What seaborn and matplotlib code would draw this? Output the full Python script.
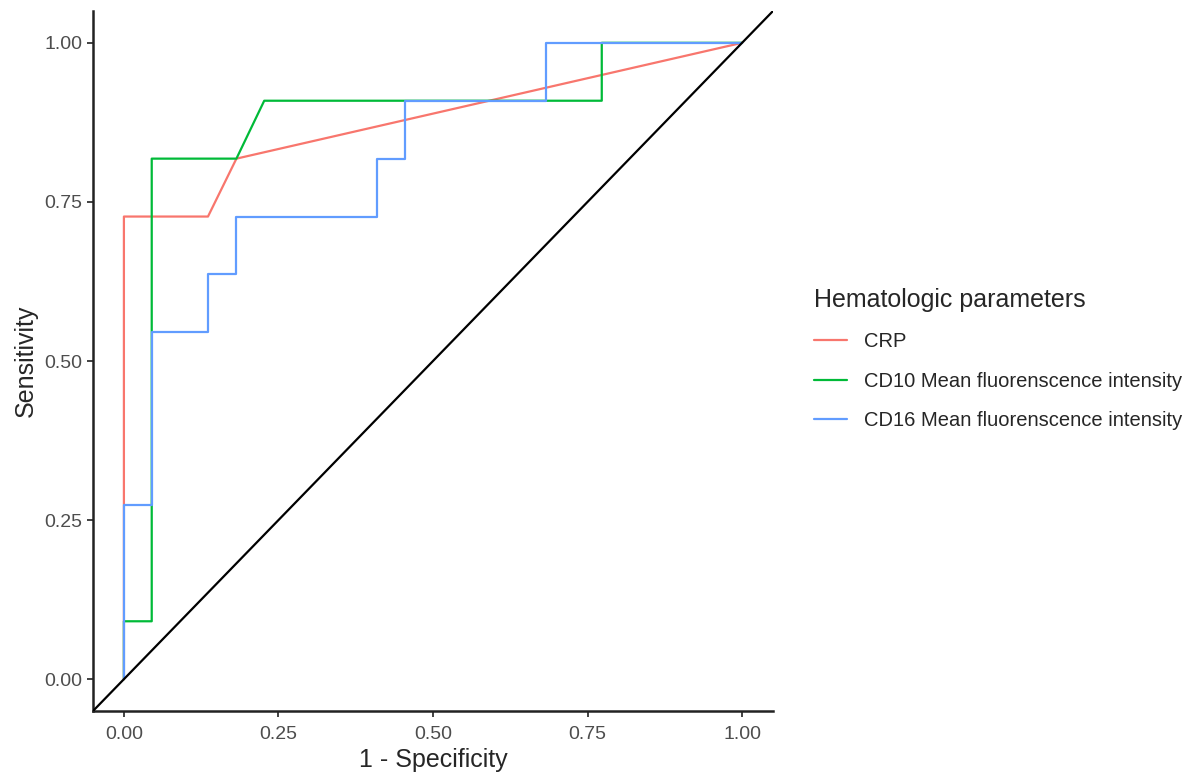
import pandas as pd
import seaborn as sns
import matplotlib.pyplot as plt

#################### Data ####################

params = ['CRP', 'CD10 Mean fluorenscence intensity', 'CD16 Mean fluorenscence intensity']

crp_fpr = [0.000, 0.000, 0.136, 0.182, 1.000]
crp_tpr = [0.000, 0.727, 0.727, 0.818, 1.000]

cd10_fpr = [0.000, 0.000, 0.045, 0.045, 0.182, 0.227, 0.773, 0.773, 1.000]
cd10_tpr = [0.000, 0.091, 0.091, 0.818, 0.818, 0.909, 0.909, 1.000, 1.000]

cd16_fpr = [0.000, 0.000, 0.045, 0.045, 0.136, 0.136, 0.182, 0.182,
            0.409, 0.409, 0.455, 0.455, 0.682, 0.682, 1.000]
cd16_tpr = [0.000, 0.273, 0.273, 0.545, 0.545, 0.636, 0.636, 0.727,
            0.727, 0.818, 0.818, 0.909, 0.909, 1.000, 1.000]

palette = ['#F8766D', '#00BA38', '#619CFF']

#################### Long table ####################

frames = []
for name, fx, ty in zip(params, [crp_fpr, cd10_fpr, cd16_fpr], [crp_tpr, cd10_tpr, cd16_tpr]):
    frames.append(pd.DataFrame({'fpr': fx, 'tpr': ty, 'param': name}))
df = pd.concat(frames, ignore_index=True)

#################### Plot ####################

sns.set_style('white')
plt.rcParams['font.family'] = ['Liberation Sans', 'DejaVu Sans']

fig = plt.figure(figsize=(11.97, 7.78), dpi=100)
ax = fig.add_axes([93 / 1197, 67 / 778, 680 / 1197, 700 / 778])

sns.lineplot(data=df, x='fpr', y='tpr', hue='param', hue_order=params, palette=palette,
             estimator=None, sort=False, units='param', linewidth=1.6, ax=ax, legend=False)

# reference diagonal
ax.plot([-0.05, 1.05], [-0.05, 1.05], color='black', linewidth=1.6, zorder=5)

ax.set_xlim(-0.05, 1.05)
ax.set_ylim(-0.05, 1.05)
ticks = [0, 0.25, 0.5, 0.75, 1.0]
tick_labels = ['0.00', '0.25', '0.50', '0.75', '1.00']
ax.set_xticks(ticks)
ax.set_yticks(ticks)
ax.set_xticklabels(tick_labels)
ax.set_yticklabels(tick_labels)
ax.tick_params(axis='both', bottom=True, left=True, direction='out', length=4, width=1.3,
               color='#333333', labelcolor='#4D4D4D', labelsize=14)
ax.tick_params(axis='x', pad=6.5)
ax.tick_params(axis='y', pad=3.5)

for side in ['top', 'right']:
    ax.spines[side].set_visible(False)
for side in ['left', 'bottom']:
    ax.spines[side].set_color('#222222')
    ax.spines[side].set_linewidth(1.8)

ax.set_xlabel('1 - Specificity', fontsize=18, labelpad=4)
ax.set_ylabel('Sensitivity', fontsize=18, labelpad=5)

#################### Legend ####################

handles = [plt.Line2D([], [], color=c, linewidth=1.6) for c in palette]
leg = fig.legend(handles, params, title='Hematologic parameters', loc='center left',
                 bbox_to_anchor=(806 / 1197, 0.5387), frameon=False, fontsize=14.5,
                 title_fontsize=18, handlelength=1.65, handletextpad=0.85,
                 labelspacing=1.02, alignment='left', borderaxespad=0)

fig.savefig('out.png', dpi=100)
